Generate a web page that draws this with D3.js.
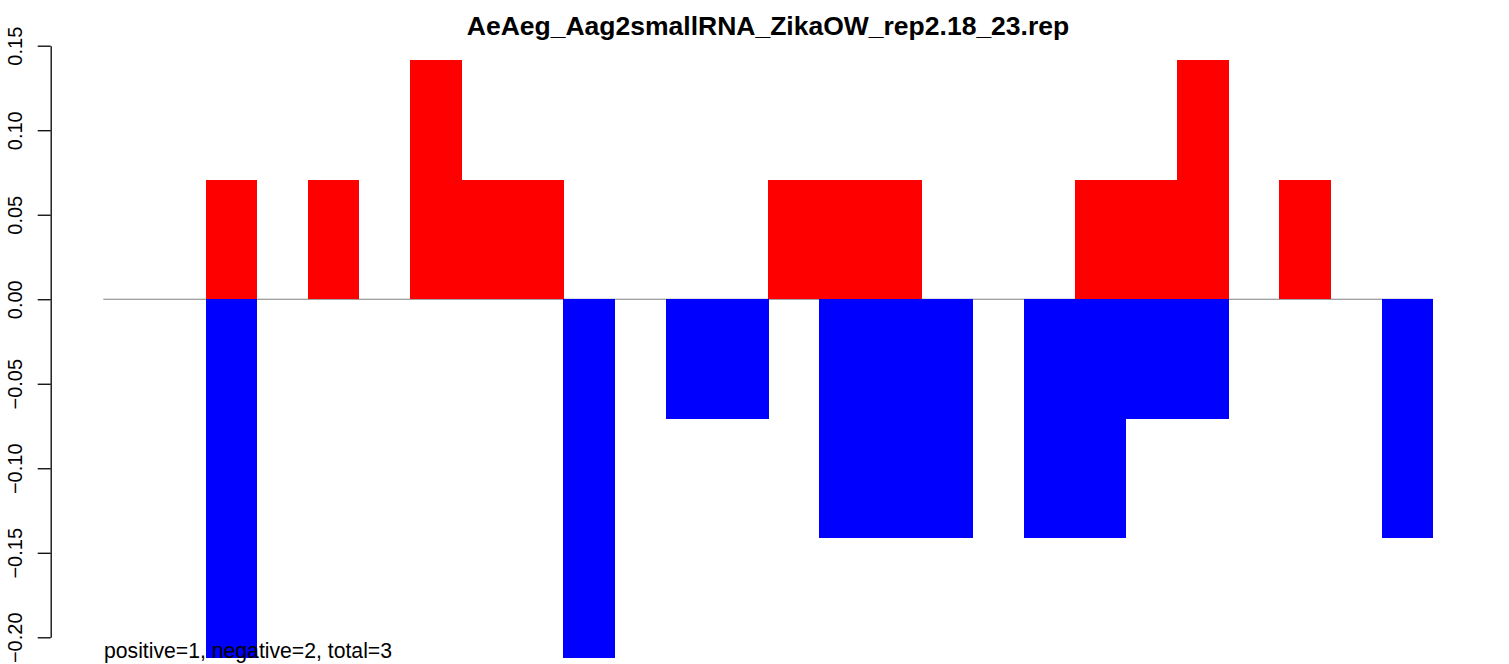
<meta charset="utf-8">
<script src="https://cdn.jsdelivr.net/npm/d3@7"></script>

<style>
  body {
    margin: 0;
    background-color: #ffffff;
  }
  text {
    font-family: "Liberation Sans", Arial, sans-serif;
    fill: #000000;
  }
</style>

<div id="chart"></div>

<script>
// bin positions along the sequence (26 slots)
var positions = d3.range(1, 27)
// positive strand values, per position
var posValues = [0, 0, 0.0707, 0, 0.0707, 0, 0.1414, 0.0707, 0.0707, 0, 0, 0, 0, 0.0707, 0.0707, 0.0707, 0, 0, 0, 0.0707, 0.0707, 0.1414, 0, 0.0707, 0, 0]
// negative strand values, per position
var negValues = [0, 0, -0.212, 0, 0, 0, 0, 0, 0, -0.212, 0, -0.0707, -0.0707, 0, -0.1414, -0.1414, -0.1414, 0, -0.1414, -0.1414, -0.0707, -0.0707, 0, 0, 0, -0.1414]
var yTicks = [-0.20, -0.15, -0.10, -0.05, 0.00, 0.05, 0.10, 0.15]

var title = "AeAeg_Aag2smallRNA_ZikaOW_rep2.18_23.rep"
var note = "positive=1, negative=2, total=3"

var width = 1509, height = 664

var svg = d3.select("#chart")
  .append("svg")
    .attr("width", width)
    .attr("height", height)

var x = d3.scaleBand()
  .domain(positions)
  .range([103.3, 1432.7])
  .padding(0)

var y = d3.scaleLinear()
  .domain([-0.20, 0.15])
  .range([637.3, 45.7])

// zero line
svg.append("line")
  .attr("x1", x(positions[0]))
  .attr("x2", x(positions[positions.length - 1]) + x.bandwidth())
  .attr("y1", y(0))
  .attr("y2", y(0))
  .style("stroke", "#808080")
  .style("stroke-width", 1)

var posData = positions.map(function(p, i) { return {pos: p, v: posValues[i]} }).filter(d => d.v !== 0)
var negData = positions.map(function(p, i) { return {pos: p, v: negValues[i]} }).filter(d => d.v !== 0)

svg.selectAll(".pos")
  .data(posData)
  .enter()
  .append("rect")
    .attr("class", "pos")
    .attr("x", d => x(d.pos))
    .attr("width", x.bandwidth() + 0.5)
    .attr("y", d => y(d.v))
    .attr("height", d => y(0) - y(d.v))
    .attr("fill", "#ff0000")
    .attr("shape-rendering", "crispEdges")

svg.selectAll(".neg")
  .data(negData)
  .enter()
  .append("rect")
    .attr("class", "neg")
    .attr("x", d => x(d.pos))
    .attr("width", x.bandwidth() + 0.5)
    .attr("y", y(0))
    .attr("height", d => y(d.v) - y(0))
    .attr("fill", "#0000ff")
    .attr("shape-rendering", "crispEdges")

// y axis
var yAxis = svg.append("g")
  .attr("transform", "translate(50.7,0)")
  .call(d3.axisLeft(y).tickValues(yTicks).tickFormat(d3.format(".2f")).tickSize(13).tickSizeOuter(0))

yAxis.select(".domain").style("stroke", "#000").style("stroke-width", 1.3)
yAxis.selectAll(".tick line").style("stroke", "#000").style("stroke-width", 1.3)
yAxis.selectAll(".tick text")
  .attr("transform", "rotate(-90)")
  .attr("x", 0)
  .attr("y", -29)
  .attr("dy", 0)
  .attr("text-anchor", "middle")
  .style("font-family", "'Liberation Sans', Arial, sans-serif")
  .style("font-size", "20px")
  .style("fill", "#000")

svg.append("text")
  .attr("x", 768)
  .attr("y", 34.5)
  .attr("text-anchor", "middle")
  .style("font-size", "26.5px")
  .style("font-weight", "bold")
  .text(title)

svg.append("text")
  .attr("x", 104)
  .attr("y", 658)
  .style("font-size", "21.2px")
  .text(note)
</script>
